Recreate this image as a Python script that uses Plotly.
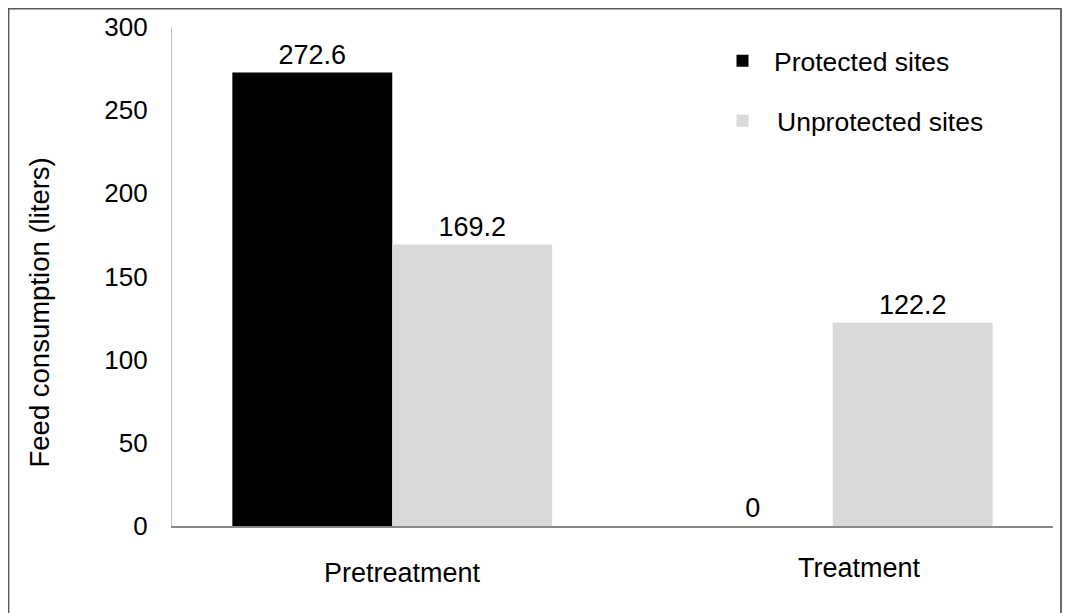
import plotly.graph_objects as go

categories = ["Pretreatment", "Treatment"]
protected = [272.6, 0]
unprotected = [169.2, 122.2]
series_names = ["Protected sites", "Unprotected sites"]
y_ticks = [0, 50, 100, 150, 200, 250, 300]
y_title = "Feed consumption (liters)"

# page offset (default body margin of the html page)
OFF = 8
W, H = 1073 - OFF, 613 - OFF
# plot area in page pixels of the target
PL, PR, PT, PB = 172, 1053, 27, 526
L, R, T, B = PL - OFF, W - (PR - OFF), PT - OFF, H - (PB - OFF)
pw, ph = W - L - R, H - T - B

def px_x(x):  # page pixel -> paper x
    return (x - OFF - L) / pw

def px_y(y):  # page pixel -> paper y
    return (H - B - (y - OFF)) / ph

FONT = "Liberation Sans, Arial, sans-serif"

fig = go.Figure()
fig.add_trace(go.Bar(
    x=categories, y=protected, name=series_names[0],
    marker=dict(color="#000000", line=dict(width=0)),
    text=[f"{v:g}" for v in protected], textposition="outside",
    textfont=dict(size=27, color="#000000"), cliponaxis=False,
    legend="legend",
))
fig.add_trace(go.Bar(
    x=categories, y=unprotected, name=series_names[1],
    marker=dict(color="#d9d9d9", line=dict(width=0)),
    text=[f"{v:g}" for v in unprotected], textposition="outside",
    textfont=dict(size=27, color="#000000"), cliponaxis=False,
    legend="legend2",
))

leg_common = dict(xanchor="left", yanchor="middle", font=dict(size=26.5),
                  bgcolor="rgba(0,0,0,0)")

# category labels drawn as text annotations (per-label placement)
cat_label_pos = [(10, 572.5), (27, 567.5)]  # (x shift px, page y of centre)
cat_annots = [dict(
    text=c, xref="x", yref="paper", x=c, xshift=dx, y=px_y(yy),
    xanchor="center", yanchor="middle", showarrow=False,
    font=dict(size=27, color="#000000"),
) for c, (dx, yy) in zip(categories, cat_label_pos)]

fig.update_layout(
    width=W, height=H,
    margin=dict(l=L, r=R, t=T, b=B, autoexpand=False),
    paper_bgcolor="white", plot_bgcolor="white",
    font=dict(family=FONT, size=26, color="#000000"),
    barmode="group", bargap=0.274, bargroupgap=0,
    showlegend=True,
    legend=dict(x=px_x(711), y=px_y(61), itemwidth=53, **leg_common),
    legend2=dict(x=px_x(708), y=px_y(121), itemwidth=59, **leg_common),
    xaxis=dict(
        showline=True, linecolor="#898989", linewidth=1.5,
        showgrid=False, ticks="", showticklabels=False,
    ),
    yaxis=dict(
        range=[0, 300], tickvals=y_ticks, showline=True,
        linecolor="#bfbfbf", linewidth=1.2, showgrid=False,
        zeroline=False, ticks="", ticklabelstandoff=18,
        tickfont=dict(size=26),
    ),
    annotations=[dict(
        text=y_title, textangle=-90, xref="paper", yref="paper",
        x=px_x(39), y=px_y(312.5), xanchor="center", yanchor="middle",
        showarrow=False, font=dict(size=27.5, color="#000000"),
    )] + cat_annots,
    shapes=[dict(
        type="rect", xref="paper", yref="paper",
        x0=px_x(8.5), x1=px_x(1061), y0=px_y(660), y1=px_y(8.5),
        line=dict(color="#595959", width=1.8), fillcolor="rgba(0,0,0,0)",
        layer="below",
    )],
)

fig.write_html(
    "out.html",
    post_script="document.documentElement.style.overflow='hidden';",
)
